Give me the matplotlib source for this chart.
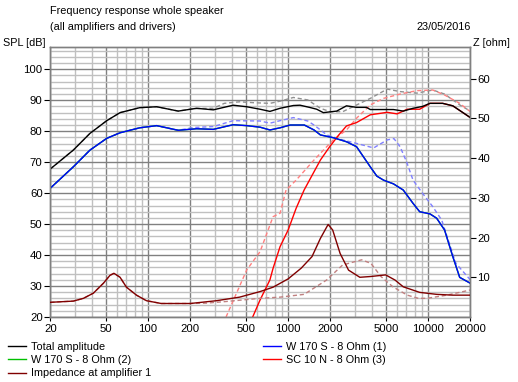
import numpy as np
import matplotlib
matplotlib.use('Agg')
import matplotlib.pyplot as plt
from matplotlib.lines import Line2D
from matplotlib.ticker import FixedLocator, NullFormatter

plt.rcParams['font.family'] = ['Liberation Sans', 'DejaVu Sans']
FS = 7.8
plt.rcParams['font.size'] = FS

# SPL curves (left axis, dB)
f_total = [20, 29.2, 38.4, 50.6, 63, 87, 115, 164, 222, 292, 405, 506, 630, 741, 875,
           1089, 1216, 1420, 1600, 1783, 2222, 2610, 3080, 3630, 3860, 4500, 5650,
           6640, 7800, 9100, 10300, 12700, 15000, 20000]
spl_total = [67.8, 73.9, 79.3, 83.4, 86.0, 87.6, 87.9, 86.5, 87.4, 86.9, 88.4, 87.9, 87.1,
             86.4, 87.4, 88.3, 88.4, 87.7, 87.1, 86.0, 86.5, 88.2, 87.7, 87.7, 87.0, 87.0,
             87.0, 86.5, 87.4, 88.0, 89.0, 89.0, 88.2, 84.4]

f_total_ref = [20, 29.2, 38.4, 50.6, 63, 87, 115, 164, 210, 292, 350, 450, 570, 741, 875,
               1089, 1380, 1700, 2000, 2450, 2900, 3860, 5100, 6300, 8300, 10800, 13100,
               16800, 20000]
spl_total_ref = [67.8, 73.9, 79.3, 83.4, 86.0, 87.6, 87.9, 86.5, 87.3, 87.4, 89.0, 89.5,
                 89.2, 89.0, 89.7, 90.9, 90.1, 87.4, 86.3, 86.3, 87.9, 90.6, 93.6, 92.8,
                 92.3, 93.3, 92.0, 88.5, 86.5]

f_woofer = [20, 29.2, 38.4, 50.6, 63, 87, 115, 164, 222, 292, 405, 506, 630, 741, 875,
            1033, 1304, 1530, 1700, 2100, 2610, 3080, 3860, 4300, 4800, 5650, 6640, 7800,
            8700, 10300, 11500, 13100, 15000, 16800, 20000]
spl_woofer = [61.6, 68.5, 73.9, 77.7, 79.5, 81.1, 81.8, 80.3, 80.8, 80.6, 82.1, 81.8, 81.3,
              80.4, 81.1, 82.0, 82.0, 80.4, 78.8, 77.9, 76.6, 75.0, 68.5, 65.5, 64.2, 63.0,
              61.0, 56.7, 54.0, 53.3, 51.9, 48.1, 39.5, 32.8, 30.9]

f_woofer_ref = [20, 29.2, 38.4, 50.6, 63, 87, 115, 164, 210, 292, 405, 630, 741, 875, 1089,
                1380, 1530, 1890, 2350, 3180, 4080, 5100, 5700, 6300, 7000, 7800, 9100,
                10800, 12500, 13900, 15800, 20000]
spl_woofer_ref = [61.6, 68.5, 73.9, 77.7, 79.5, 81.1, 81.8, 80.3, 81.2, 81.5, 83.4, 83.3,
                  82.6, 83.4, 84.4, 83.3, 82.0, 78.8, 77.4, 75.9, 74.6, 77.2, 77.6, 75.0,
                  70.2, 64.2, 60.0, 55.6, 51.3, 44.9, 37.3, 32.0]

f_tweeter = [558, 630, 741, 780, 875, 1000, 1140, 1300, 1420, 1700, 1980, 2300, 2610, 3080,
             3860, 5100, 6000, 7100, 8700, 10300, 12700, 15000, 20000]
spl_tweeter = [20.0, 25.5, 32.0, 35.7, 42.7, 48.1, 55.1, 61.0, 64.2, 70.7, 75.0, 78.8, 81.7,
               82.8, 85.3, 86.1, 85.6, 87.1, 87.1, 89.0, 89.0, 88.2, 84.4]

f_tweeter_ref = [360, 506, 630, 780, 875, 966, 1140, 1530, 2100, 2610, 3080, 3860, 4800,
                 6300, 8300, 10800, 13100, 16800, 20000]
spl_tweeter_ref = [20.0, 35.2, 41.1, 52.4, 53.5, 61.0, 64.2, 70.7, 77.2, 80.4, 84.2, 88.5,
                   90.6, 92.0, 93.1, 93.3, 91.7, 89.0, 86.3]

# impedance (right axis, ohm)
f_imp = [20, 29.2, 34.5, 40.6, 47.9, 53.4, 57, 63, 70, 82.5, 97.3, 124, 200, 307, 450, 630,
         780, 1000, 1240, 1480, 1700, 1930, 2080, 2350, 2700, 3250, 3900, 4970, 5800, 6640,
         8700, 11500, 15000, 20000]
z_imp = [3.7, 4.0, 4.7, 6.0, 8.5, 10.5, 11.0, 10.0, 7.5, 5.5, 4.1, 3.4, 3.4, 4.1, 5.0, 6.4,
         7.5, 9.6, 12.3, 15.2, 19.8, 23.3, 21.9, 16.0, 11.8, 10.0, 10.2, 10.6, 9.3, 7.6,
         6.2, 5.7, 5.5, 5.5]

f_imp_ref = [20, 29.2, 34.5, 40.6, 47.9, 53.4, 57, 63, 70, 82.5, 97.3, 124, 200, 262, 360,
             630, 875, 1300, 1880, 2450, 3350, 3900, 4600, 5600, 7100, 8500, 9800, 13600,
             20000]
z_imp_ref = [3.7, 4.0, 4.7, 6.0, 8.5, 10.5, 11.0, 10.0, 7.5, 5.5, 4.1, 3.4, 3.4, 3.5, 3.9,
             4.7, 5.0, 5.7, 9.3, 13.1, 14.4, 13.5, 10.2, 7.6, 5.5, 4.7, 4.7, 5.5, 6.8]

xticks = [20, 50, 100, 200, 500, 1000, 2000, 5000, 10000, 20000]
xminor = [30, 40, 60, 70, 80, 90, 300, 400, 600, 700, 800, 900,
          3000, 4000, 6000, 7000, 8000, 9000]

W, H = 518, 382
fig = plt.figure(figsize=(W / 100, H / 100), dpi=100)
ax = fig.add_axes([50.3 / W, 1 - 317 / H, 420 / W, (317 - 47.3) / H])
ax2 = ax.twinx()

dash = (0, (3, 2))
lw = 1.0
ax.semilogx(f_total_ref, spl_total_ref, color='#909090', lw=lw, ls=dash, zorder=2)
ax.semilogx(f_woofer_ref, spl_woofer_ref, color='#8080ff', lw=lw, ls=dash, zorder=2)
ax.semilogx(f_tweeter_ref, spl_tweeter_ref, color='#ff8080', lw=lw, ls=dash, zorder=2)
ax.semilogx(f_tweeter, spl_tweeter, color='#ff0000', lw=lw, zorder=3)
ax.semilogx(f_woofer, spl_woofer, color='#00c000', lw=lw, zorder=3)
ax.semilogx(f_woofer, spl_woofer, color='#0000ff', lw=lw, zorder=4)
ax.semilogx(f_total, spl_total, color='black', lw=lw, zorder=5)

ax2.semilogx(f_imp_ref, z_imp_ref, color='#c08080', lw=lw, ls=dash, zorder=2)
ax2.semilogx(f_imp, z_imp, color='#800000', lw=lw, zorder=3)

ax.set_xlim(20, 20000)
ax.set_ylim(20, 107.1)
ax2.set_ylim(0, 67.9)

ax.xaxis.set_major_locator(FixedLocator(xticks))
ax.xaxis.set_minor_locator(FixedLocator(xminor))
ax.set_xticklabels([str(t) for t in xticks])
ax.xaxis.set_minor_formatter(NullFormatter())
ax.set_yticks(np.arange(20, 101, 10))
ax.set_yticks(np.arange(20, 107, 2), minor=True)
ax2.set_yticks(np.arange(10, 61, 10))
ax2.set_yticklabels([str(v) for v in range(10, 61, 10)])

ax.grid(True, which='minor', color='#c0c0c0', lw=1, zorder=0)
ax.grid(True, which='major', color='#808080', lw=1, zorder=0)
ax.set_axisbelow(True)

ax.tick_params(axis='y', which='major', length=4, width=0.8, pad=1.5, labelsize=FS + 0.4)
ax.tick_params(axis='y', which='minor', length=0)
ax.tick_params(axis='x', which='major', length=3, width=0.8, pad=2, labelsize=FS + 0.4)
ax.tick_params(axis='x', which='minor', length=0)
ax2.tick_params(axis='y', length=4, width=0.8, pad=1, labelsize=FS + 0.4)
for a in (ax, ax2):
    for s in a.spines.values():
        s.set_color('#808080')
        s.set_linewidth(1)

fig.text(50 / W, 1 - 11 / H, 'Frequency response whole speaker', va='center', ha='left')
fig.text(50 / W, 1 - 27 / H, '(all amplifiers and drivers)', va='center', ha='left')
fig.text(471 / W, 1 - 27 / H, '23/05/2016', va='center', ha='right')
fig.text(3 / W, 1 - 43.5 / H, 'SPL [dB]', va='center', ha='left')
fig.text(473 / W, 1 - 43.5 / H, 'Z [ohm]', va='center', ha='left')

h = lambda c: Line2D([], [], color=c, lw=1)
leg_kw = dict(frameon=False, handlelength=1.7, handletextpad=0.4, labelspacing=0.32,
              borderpad=0, borderaxespad=0, fontsize=FS)
fig.legend([h('black'), h('#00c000'), h('#800000')],
           ['Total amplitude', 'W 170 S - 8 Ohm (2)', 'Impedance at amplifier 1'],
           loc='upper left', bbox_to_anchor=(8 / W, 1 - 341.5 / H), **leg_kw)
fig.legend([h('#0000ff'), h('#ff0000')],
           ['W 170 S - 8 Ohm (1)', 'SC 10 N - 8 Ohm (3)'],
           loc='upper left', bbox_to_anchor=(263 / W, 1 - 341.5 / H), **leg_kw)

fig.savefig('out.png', dpi=100)
